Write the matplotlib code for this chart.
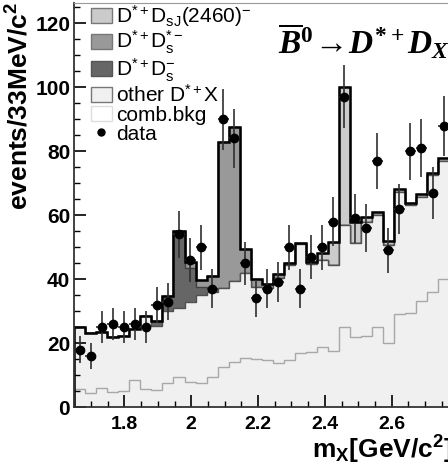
import numpy as np
import matplotlib
matplotlib.use('Agg')
import matplotlib.pyplot as plt
from matplotlib.patches import Patch
from matplotlib.lines import Line2D
from matplotlib.ticker import MultipleLocator

plt.rcParams['font.family'] = ['Liberation Sans', 'DejaVu Sans']
plt.rcParams['mathtext.fontset'] = 'custom'
plt.rcParams['mathtext.rm'] = 'Liberation Serif:bold'
plt.rcParams['mathtext.it'] = 'Liberation Serif:italic:bold'
plt.rcParams['mathtext.bf'] = 'Liberation Sans:bold'
plt.rcParams['mathtext.default'] = 'regular'

# binning: 33 MeV bins starting at 1.65 GeV
bin_lo = 1.65
bin_w = 0.033

# data counts per bin
data = [18, 16, 25, 26, 25, 26, 25, 32, 33, 54, 46, 50, 37, 90, 84, 45, 34,
        37, 39, 50, 37, 47, 50, 58, 97, 59, 56, 77, 49, 62, 80, 81, 67, 88]
# stack components (bottom -> top)
comb = [5.6, 4.4, 5.9, 4.9, 5.2, 8.4, 5.7, 5.4, 7.5, 9.6, 8.0, 7.5, 9.6, 12.5,
        14.3, 15.3, 15.0, 14.8, 13.9, 14.8, 16.9, 17.4, 18.9, 17.7, 25.2, 22.1,
        22.3, 25.2, 20.0, 29.2, 29.6, 33.3, 36.1, 40.0]
other = [19.6, 18.7, 17.7, 17.0, 17.1, 16.0, 22.9, 20.0, 22.5, 21.4, 25.0, 27.5,
         26.4, 24.7, 25.0, 26.6, 22.7, 22.4, 26.4, 29.7, 34.1, 27.4, 27.1, 26.8,
         31.6, 29.2, 35.5, 34.8, 30.8, 38.2, 33.6, 32.5, 36.5, 36.8]
ds = [0, 0, 0, 0, 0, 0, 0, 1.6, 4.8, 24.0, 10.5, 2.5, 1.0, 0, 0, 0, 0,
      0, 0, 0, 0, 0, 0, 0, 0, 0, 0, 0, 0, 0, 0, 0, 0, 0]
dsst = [0, 0, 0, 0, 0, 0, 0, 0, 0, 0, 2.0, 2.3, 4.0, 45.8, 48.4, 7.5, 2.3,
        1.4, 1.4, 0.5, 0.4, 0, 0, 0, 0, 0, 0, 0, 0, 0, 0, 0, 0, 0]
dsj = [0, 0, 0, 0, 0, 0, 0, 0, 0, 0, 0, 0, 0, 0, 0, 0, 0,
       0, 0, 0, 0, 0.7, 2.3, 7.2, 43.4, 6.7, 1.6, 1.0, 1.2, 0.8, 0.7, 0.9, 0.7, 1.0]

xticks = [1.8, 2.0, 2.2, 2.4, 2.6]
xtick_labels = ['1.8', '2', '2.2', '2.4', '2.6']
yticks = [0, 20, 40, 60, 80, 100, 120]
ytick_labels = ['0', '20', '40', '60', '80', '100', '120']

legend_labels = [r'D$^{*+}$D$_{sJ}$(2460)$^{-}$', r'D$^{*+}$D$_{s}^{*-}$',
                 r'D$^{*+}$D$_{s}^{-}$', r'other D$^{*+}$X', 'comb.bkg', 'data']

col_dsj = '#cbcbcb'
col_dsst = '#999999'
col_ds = '#666666'
col_other = '#f0f0f0'

n = len(data)
edges = bin_lo + bin_w * np.arange(n + 1)
centers = 0.5 * (edges[:-1] + edges[1:])
c1 = np.array(comb)
c2 = c1 + np.array(other)
c3 = c2 + np.array(ds)
c4 = c3 + np.array(dsst)
c5 = c4 + np.array(dsj)

fig = plt.figure(figsize=(4.48, 4.72), dpi=100)
ax = fig.add_axes([74.3 / 448, 1 - 407.3 / 472, 400.8 / 448, 404.3 / 472])

# stacked histograms, drawn top sum first (ROOT THStack style)
ax.stairs(c5, edges, fill=True, facecolor=col_dsj, edgecolor='#404040', lw=1)
ax.stairs(c4, edges, fill=True, facecolor=col_dsst, edgecolor='#404040', lw=1)
ax.stairs(c3, edges, fill=True, facecolor=col_ds, edgecolor='#404040', lw=1)
ax.stairs(c2, edges, fill=True, facecolor=col_other, edgecolor='#505050', lw=1)
ax.stairs(c1, edges, color='#a8a8a8', lw=1)
ax.stairs(c5, edges, color='black', lw=1.8)

ax.errorbar(centers, data, yerr=np.sqrt(data), xerr=bin_w / 2, fmt='o',
            color='black', ecolor='#303030', ms=6, elinewidth=1.2, capsize=0)

ax.set_xlim(1.65, 2.85)
ax.set_ylim(0, 126.3)
ax.set_xticks(xticks)
ax.set_xticklabels(xtick_labels, fontweight='bold', fontsize=14)
ax.set_yticks(yticks)
ax.set_yticklabels(ytick_labels, fontweight='bold', fontsize=15)
ax.xaxis.set_minor_locator(MultipleLocator(0.05))
ax.yaxis.set_minor_locator(MultipleLocator(5))
ax.tick_params(which='both', direction='in', top=False, right=False)
ax.tick_params(which='major', length=8.5, width=1.2)
ax.tick_params(which='minor', length=4.5, width=1)
ax.tick_params(axis='x', pad=6)
ax.tick_params(axis='y', pad=3)
for s in ['left', 'bottom']:
    ax.spines[s].set_linewidth(1.3)
    ax.spines[s].set_color('#333333')
ax.spines['top'].set_linewidth(0.8)
ax.spines['top'].set_color('#999999')

handles = [Patch(facecolor=col_dsj, edgecolor='#777777'),
           Patch(facecolor=col_dsst, edgecolor='#777777'),
           Patch(facecolor=col_ds, edgecolor='#555555'),
           Patch(facecolor=col_other, edgecolor='#777777'),
           Patch(facecolor='white', edgecolor='#dddddd'),
           Line2D([], [], marker='o', ls='none', color='black', ms=5)]
fig.legend(handles, legend_labels, loc='upper left',
           bbox_to_anchor=(91 / 448, 1 - 3 / 472), frameon=False, fontsize=15,
           handlelength=1.0, handleheight=0.75, handletextpad=0.2,
           labelspacing=0.0, borderpad=0, borderaxespad=0)

fig.text(278 / 448, 1 - 54 / 472,
         r'$\mathit{\overline{B}^{0}\!\rightarrow\! D^{*+}D_{X}}$',
         fontsize=24, ha='left', va='baseline')
fig.text(312 / 448, 1 - 459 / 472, r'm$_{X}$[GeV/c$^{2}$]',
         fontsize=19, fontweight='bold', ha='left', va='baseline')
fig.text(20 / 448, 1 - 2 / 472, r'events/33MeV/c$^{2}$', rotation=90,
         fontsize=19, fontweight='bold', ha='center', va='top')

fig.savefig('out.png', dpi=100)
